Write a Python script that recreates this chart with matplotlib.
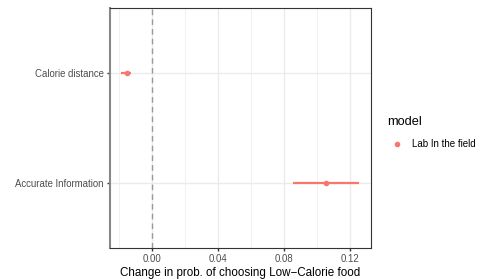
import matplotlib
matplotlib.use("Agg")
import matplotlib.pyplot as plt
from matplotlib.lines import Line2D

plt.rcParams['font.family'] = ['Liberation Sans', 'DejaVu Sans']

categories = ["Accurate Information", "Calorie distance"]
estimates = [0.1055, -0.0153]
lower = [0.0855, -0.0190]
upper = [0.1253, -0.0127]
xticks = [0.00, 0.04, 0.08, 0.12]
xtick_labels = ["0.00", "0.04", "0.08", "0.12"]
model_label = "Lab In the field"
color = "#F8766D"

fig = plt.figure(figsize=(4.82, 2.79), dpi=100)
ax = fig.add_axes([110/482, 1-248/279, (371-110)/482, (248-8)/279])

ypos = [1, 2]
for y, e, lo, hi in zip(ypos, estimates, lower, upper):
    ax.hlines(y, lo, hi, color=color, lw=1.6, zorder=3)
    ax.plot(e, y, 'o', color=color, ms=3.0, zorder=4)

ax.axvline(0, color='#999999', ls=(0, (4, 3)), lw=1.0, zorder=2)

ax.set_xlim(-0.0255, 0.1327)
ax.set_ylim(0.4, 2.6)
ax.set_yticks(ypos)
ax.set_yticklabels(categories)
ax.set_xticks(xticks)
ax.set_xticklabels(xtick_labels)
ax.set_xticks([-0.02, 0.02, 0.06, 0.10], minor=True)
ax.grid(True, which='major', color='#EBEBEB', lw=1.0, zorder=0)
ax.grid(True, which='minor', axis='x', color='#EBEBEB', lw=0.5, zorder=0)
ax.set_axisbelow(True)
ax.tick_params(axis='both', which='major', labelsize=6.9, labelcolor='#4D4D4D',
               color='#333333', length=2.5, width=1.0, pad=2)
ax.tick_params(axis='x', which='minor', length=0)
for s in ax.spines.values():
    s.set_color('#333333')
    s.set_linewidth(0.8)
ax.spines['left'].set_color('#888888')
ax.spines['left'].set_linewidth(1.5)
ax.set_xlabel("Change in prob. of choosing Low\u2212Calorie food", fontsize=8.4, labelpad=2)

handle = Line2D([], [], marker='o', color=color, ls='none', ms=3.0)
leg = fig.legend([handle], [model_label], title="model", loc='upper left',
                 bbox_to_anchor=(383/482, 1-112/279), frameon=False,
                 fontsize=7.0, title_fontsize=9.2, handletextpad=0.6,
                 handlelength=2.0, borderaxespad=0, labelspacing=0.6)
leg._legend_box.align = "left"
leg._legend_box.sep = 8

fig.savefig("out.png", dpi=100)
